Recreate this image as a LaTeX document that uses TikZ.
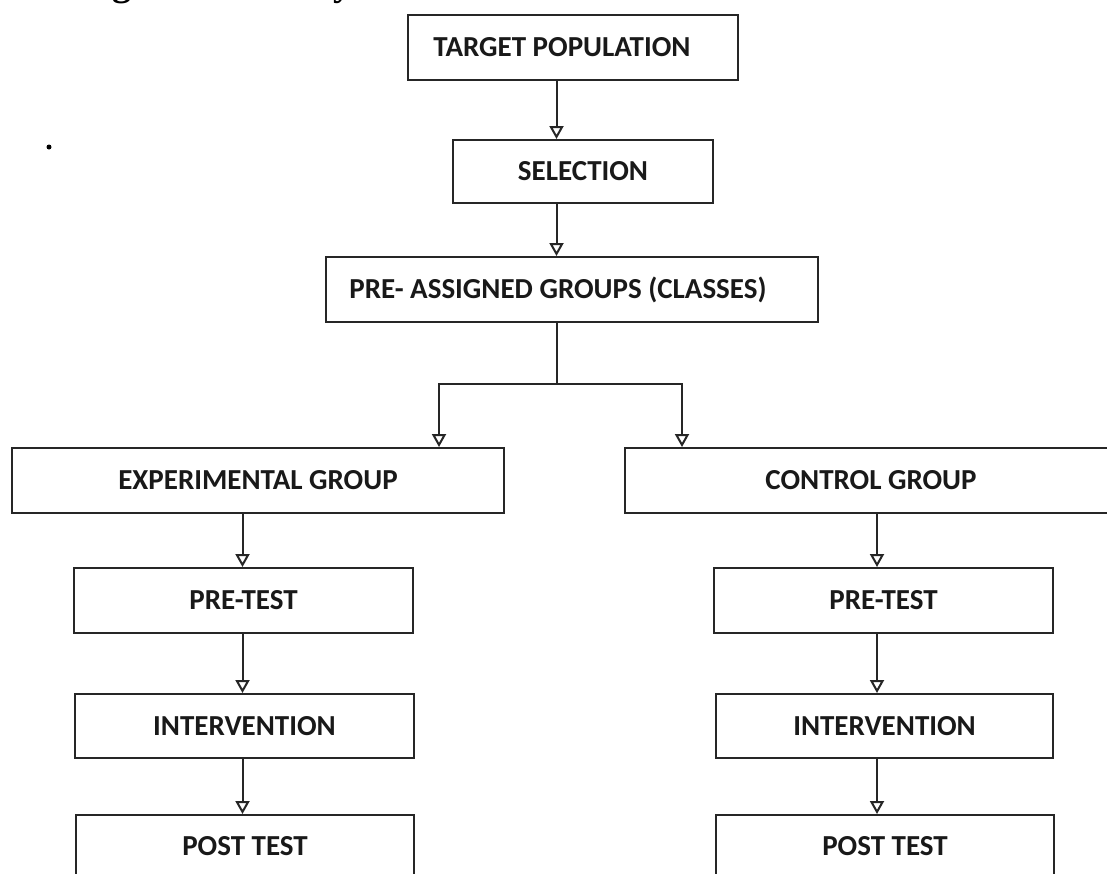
\documentclass[tikz,border=0pt]{standalone}
\usepackage{fontspec}
\setmainfont{Carlito}
\newfontfamily\titlefont{Liberation Serif}
\usetikzlibrary{arrows.meta}
\tikzset{
  flowbox/.style={draw=black!85, line width=2pt, rectangle, inner sep=0pt,
    font=\fontsize{29}{32}\selectfont\bfseries, text=black!90},
  arr/.style={draw=black!85, line width=2pt, -{Triangle[open,length=13pt,width=14pt,line width=2pt]}},
  conn/.style={draw=black!85, line width=2pt}
}
\begin{document}
\begin{tikzpicture}[x=1pt,y=-1pt]
\useasboundingbox (0,0) rectangle (1107,873);
\fill[white] (0,0) rectangle (1107,873);
% cut-off heading at the top edge
\node[anchor=base west, inner sep=0pt, font=\titlefont\bfseries\fontsize{38}{40}\selectfont] (title) at (43,-5) {Design of the study};
\fill[black] (49,147) circle (2.5pt);
% boxes
\node[flowbox, minimum width=330pt, minimum height=65pt] (tp) at (573,47.5) {\hspace*{-22pt}TARGET POPULATION};
\node[flowbox, minimum width=260pt, minimum height=63pt] (sel) at (583,171.5) {SELECTION};
\node[flowbox, minimum width=492pt, minimum height=65pt] (pag) at (572,289.5) {\hspace*{-28pt}PRE- ASSIGNED GROUPS (CLASSES)};
\node[flowbox, minimum width=492pt, minimum height=65pt] (exp) at (258,480.5) {EXPERIMENTAL GROUP};
\node[flowbox, minimum width=492pt, minimum height=65pt] (ctl) at (871,480.5) {CONTROL GROUP};
\node[flowbox, minimum width=339pt, minimum height=65pt] (lpre) at (243.5,600.5) {PRE-TEST};
\node[flowbox, minimum width=339pt, minimum height=64pt] (lint) at (244.5,726) {INTERVENTION};
\node[flowbox, minimum width=338pt, minimum height=62pt] (lpost) at (245,846) {POST TEST};
\node[flowbox, minimum width=339pt, minimum height=65pt] (rpre) at (883.5,600.5) {PRE-TEST};
\node[flowbox, minimum width=337pt, minimum height=64pt] (rint) at (884.5,726) {INTERVENTION};
\node[flowbox, minimum width=338pt, minimum height=62pt] (rpost) at (885,846) {POST TEST};
% helper coordinates
\coordinate (ax) at (556.5,0);
\coordinate (lx) at (242.5,0);
\coordinate (rx) at (877,0);
\coordinate (br) at (556.5,384);
\coordinate (bl) at (439,384);
\coordinate (bru) at (682,384);
% connectors
\draw[arr] (tp.south -| ax) -- (sel.north -| ax);
\draw[arr] (sel.south -| ax) -- (pag.north -| ax);
\draw[conn] (pag.south -| ax) -- (br);
\draw[arr] (br) -- (bl) -- (exp.north -| bl);
\draw[arr] (br) -- (bru) -- (ctl.north -| bru);
\draw[arr] (exp.south -| lx) -- (lpre.north -| lx);
\draw[arr] (lpre.south -| lx) -- (lint.north -| lx);
\draw[arr] (lint.south -| lx) -- (lpost.north -| lx);
\draw[arr] (ctl.south -| rx) -- (rpre.north -| rx);
\draw[arr] (rpre.south -| rx) -- (rint.north -| rx);
\draw[arr] (rint.south -| rx) -- (rpost.north -| rx);
\end{tikzpicture}
\end{document}
